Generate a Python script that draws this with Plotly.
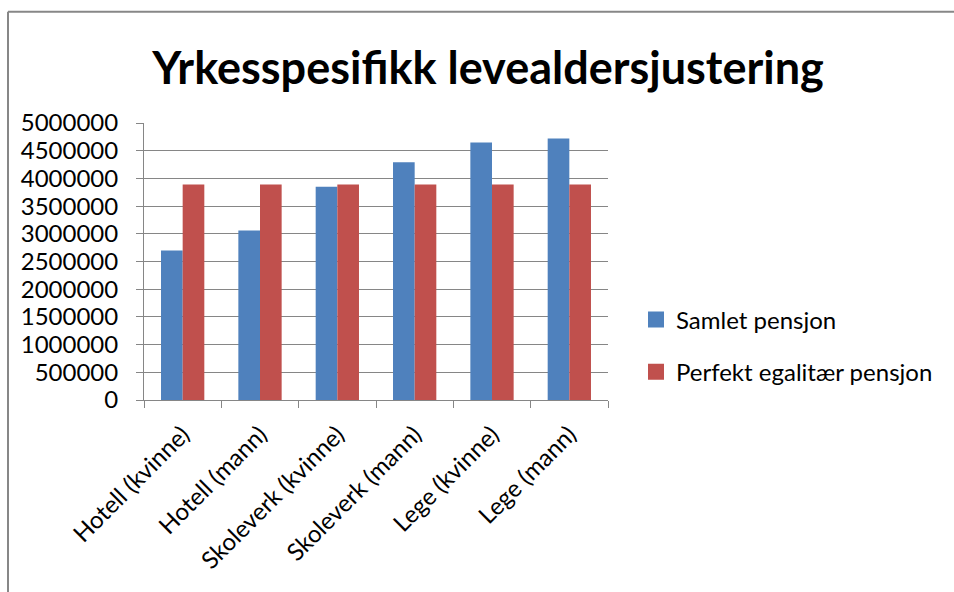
import plotly.graph_objects as go

categories = ["Hotell (kvinne)", "Hotell (mann)", "Skoleverk (kvinne)",
              "Skoleverk (mann)", "Lege (kvinne)", "Lege (mann)"]
samlet = [2700000, 3060000, 3850000, 4290000, 4650000, 4720000]
egalitaer = [3890000, 3890000, 3890000, 3890000, 3890000, 3890000]
series_names = ["Samlet pensjon", "Perfekt egalitær pensjon"]
series_colors = ["#4F81BD", "#C0504D"]
y_ticks = [0, 500000, 1000000, 1500000, 2000000, 2500000, 3000000,
           3500000, 4000000, 4500000, 5000000]

W, H = 954, 592
L, R, T, B = 144, 608, 123, 400

def px(x):
    return (x - L) / (R - L)

def py(y):
    return (B - y) / (B - T)

fig = go.Figure()
for name, vals, col, grp in zip(series_names, [samlet, egalitaer], series_colors, ["a", "b"]):
    fig.add_trace(go.Bar(x=categories, y=vals, name=name,
                         marker=dict(color=col, line=dict(width=0)),
                         legendgroup=grp, showlegend=False))
    # legend entry with a larger square swatch
    fig.add_trace(go.Scatter(x=[None], y=[None], mode="markers", name=name,
                             marker=dict(symbol="square", size=17, color=col),
                             legendgroup=grp, showlegend=True))

border = dict(color="#878787", width=2)
fig.update_layout(
    width=W, height=H,
    margin=dict(l=L, r=W - R, t=T, b=H - B),
    paper_bgcolor="white", plot_bgcolor="white",
    font=dict(family="Lato", color="black"),
    barmode="group", bargap=0.44, bargroupgap=0,
    title=dict(text="<b>Yrkesspesifikk levealdersjustering</b>",
               font=dict(size=45, family="Lato", color="black"),
               x=488 / W, xanchor="center",
               y=1 - 68 / H, yanchor="middle"),
    legend=dict(x=px(636), y=py(346), xanchor="left", yanchor="middle",
                font=dict(size=24, family="Lato"), itemwidth=30,
                tracegroupgap=18, bgcolor="rgba(0,0,0,0)"),
    xaxis=dict(showgrid=False, showline=True, linecolor="#868686", linewidth=1,
               ticks="outside", tickson="boundaries", ticklen=7,
               tickcolor="#868686", tickangle=-45,
               ticklabelstandoff=10,
               tickfont=dict(size=24, family="Lato")),
    yaxis=dict(range=[0, 5000000], tickvals=y_ticks,
               ticktext=[str(v) for v in y_ticks],
               showgrid=True, gridcolor="#868686", gridwidth=1,
               showline=True, linecolor="#868686", linewidth=1,
               ticks="outside", ticklen=7, tickcolor="#868686",
               ticklabelstandoff=13,
               tickfont=dict(size=24, family="Lato"), zeroline=False),
    shapes=[
        dict(type="line", xref="paper", yref="paper",
             x0=px(8), x1=px(8), y0=py(11.8), y1=py(600), line=border, layer="below"),
        dict(type="line", xref="paper", yref="paper",
             x0=px(8), x1=px(960), y0=py(11.8), y1=py(11.8), line=border, layer="below"),
    ],
)

fig.write_html(
    "out.html",
    config={"displayModeBar": False},
    post_script="document.body.style.margin='0';document.body.style.overflow='hidden';",
)
